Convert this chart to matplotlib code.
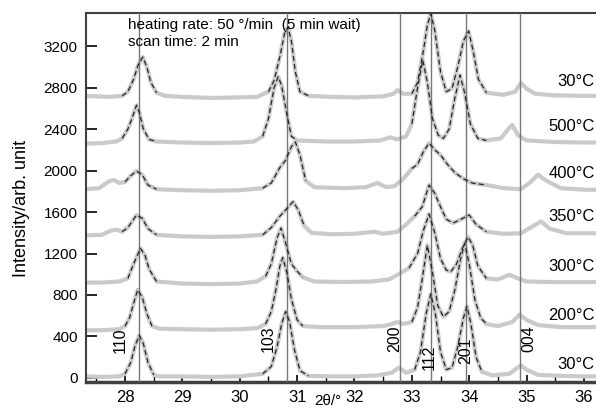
import numpy as np
import matplotlib
matplotlib.use("Agg")
import matplotlib.pyplot as plt
from matplotlib.ticker import MultipleLocator

plt.rcParams['font.family'] = ['Liberation Sans', 'DejaVu Sans']

# --- data (2theta in deg, intensity in arb. unit, stacked as drawn) ---
tt_30a = [27.32, 27.6, 27.9, 28.0, 28.1, 28.18, 28.25, 28.32, 28.4, 28.5, 28.6, 29.0, 29.5, 30.0,
          30.4, 30.55, 30.65, 30.73, 30.8, 30.87, 30.95, 31.05, 31.2, 31.6, 32.0, 32.4, 32.65,
          32.77, 32.9, 33.05, 33.15, 33.25, 33.33, 33.41, 33.5, 33.6, 33.7, 33.8, 33.9, 33.96,
          34.03, 34.12, 34.22, 34.4, 34.7, 34.82, 34.9, 35.0, 35.2, 35.6, 36.0, 36.3]
ii_30a = [15, 10, 15, 40, 150, 320, 410, 330, 150, 30, 15, 15, 10, 15,
          40, 110, 300, 520, 640, 540, 280, 70, 20, 15, 15, 25, 50,
          100, 50, 80, 250, 620, 810, 620, 250, 80, 100, 300, 580, 690,
          520, 200, 60, 25, 40, 90, 120, 80, 30, 20, 15, 15]

tt_200 = [27.32, 27.6, 27.9, 28.0, 28.08, 28.15, 28.22, 28.3, 28.38, 28.47, 28.6, 29.0, 29.5, 30.0,
          30.3, 30.45, 30.55, 30.63, 30.7, 30.75, 30.82, 30.9, 31.0, 31.1, 31.4, 32.0, 32.5, 32.65,
          32.75, 32.85, 33.0, 33.1, 33.18, 33.27, 33.35, 33.45, 33.55, 33.65, 33.75, 33.85, 33.92,
          34.0, 34.1, 34.2, 34.3, 34.5, 34.75, 34.88, 35.0, 35.2, 35.6, 36.0, 36.3]
ii_200 = [460, 460, 470, 500, 580, 720, 850, 780, 620, 500, 475, 470, 465, 470,
          480, 520, 640, 850, 1080, 1160, 1020, 760, 560, 500, 490, 490, 500, 520,
          540, 520, 540, 680, 950, 1280, 1050, 700, 590, 640, 850, 1150, 1300,
          1100, 750, 580, 520, 500, 540, 610, 560, 510, 490, 490, 490]

tt_300 = [27.32, 27.6, 27.9, 28.05, 28.15, 28.27, 28.35, 28.42, 28.55, 29.0, 29.5, 30.0, 30.3,
          30.45, 30.55, 30.65, 30.72, 30.8, 30.9, 31.0, 31.1, 31.3, 31.8, 32.3, 32.6, 32.8, 32.95,
          33.1, 33.2, 33.3, 33.4, 33.5, 33.6, 33.68, 33.78, 33.88, 33.98, 34.06, 34.15, 34.3,
          34.5, 34.7, 34.85, 35.0, 35.4, 36.0, 36.3]
ii_300 = [920, 920, 930, 960, 1100, 1250, 1180, 1050, 930, 910, 905, 910, 930,
          980, 1100, 1350, 1446, 1300, 1100, 1030, 970, 930, 925, 930, 950, 1010, 1060,
          1200, 1420, 1580, 1400, 1150, 1040, 1025, 1100, 1250, 1360, 1280, 1080, 960,
          950, 995, 960, 930, 925, 925, 925]

tt_350 = [27.32, 27.6, 27.75, 27.85, 27.95, 28.05, 28.2, 28.3, 28.4, 28.55, 29.0, 29.5, 30.0,
          30.4, 30.55, 30.7, 30.8, 30.93, 31.02, 31.12, 31.25, 31.6, 32.0, 32.35, 32.5, 32.75,
          32.9, 33.05, 33.18, 33.3, 33.4, 33.5, 33.6, 33.72, 33.82, 34.0, 34.12, 34.3, 34.6,
          34.9, 35.1, 35.25, 35.4, 35.7, 36.0, 36.3]
ii_350 = [1375, 1380, 1420, 1430, 1410, 1450, 1570, 1540, 1440, 1380, 1365, 1360, 1365,
          1380, 1450, 1560, 1620, 1700, 1620, 1470, 1400, 1385, 1390, 1410, 1390, 1410,
          1480, 1560, 1650, 1860, 1780, 1650, 1530, 1494, 1520, 1571, 1480, 1410, 1390,
          1395, 1460, 1510, 1440, 1395, 1395, 1395]

tt_400 = [27.32, 27.55, 27.7, 27.8, 27.9, 28.0, 28.1, 28.2, 28.3, 28.4, 28.55, 29.0, 29.5, 30.0,
          30.4, 30.55, 30.7, 30.8, 30.9, 30.97, 31.05, 31.15, 31.3, 31.8, 32.2, 32.4, 32.55,
          32.7, 32.85, 33.0, 33.1, 33.2, 33.3, 33.4, 33.5, 33.62, 33.75, 33.9, 34.05, 34.3,
          34.6, 34.9, 35.05, 35.2, 35.35, 35.6, 36.0, 36.3]
ii_400 = [1820, 1830, 1890, 1910, 1880, 1890, 1950, 1995, 1960, 1860, 1820, 1810, 1805, 1810,
          1830, 1880, 2030, 2100, 2230, 2275, 2150, 1900, 1840, 1830, 1840, 1880, 1840,
          1850, 1920, 2020, 2060, 2180, 2265, 2200, 2150, 2060, 1980, 1920, 1880, 1860,
          1830, 1820, 1880, 1960, 1900, 1830, 1815, 1815]

tt_500 = [27.32, 27.6, 27.85, 27.95, 28.05, 28.12, 28.2, 28.25, 28.32, 28.42, 28.55, 29.0, 29.5,
          30.0, 30.25, 30.4, 30.5, 30.6, 30.67, 30.73, 30.82, 30.9, 31.0, 31.5, 32.0, 32.45,
          32.62, 32.75, 32.9, 33.0, 33.1, 33.19, 33.27, 33.36, 33.46, 33.55, 33.65, 33.75,
          33.84, 33.92, 34.02, 34.15, 34.3, 34.55, 34.68, 34.75, 34.85, 35.0, 35.5, 36.0, 36.3]
ii_500 = [2260, 2265, 2280, 2310, 2400, 2500, 2630, 2560, 2400, 2300, 2280, 2270, 2265,
          2270, 2280, 2330, 2500, 2800, 2905, 2820, 2550, 2330, 2290, 2280, 2280, 2290,
          2320, 2300, 2330, 2450, 2800, 3065, 2850, 2500, 2340, 2310, 2400, 2700,
          2920, 2750, 2450, 2310, 2290, 2310, 2400, 2440, 2340, 2290, 2275, 2270, 2270]

tt_30b = [27.32, 27.7, 27.95, 28.05, 28.15, 28.23, 28.31, 28.38, 28.45, 28.55, 28.7, 29.0, 29.5,
          30.0, 30.3, 30.5, 30.6, 30.7, 30.78, 30.84, 30.9, 30.97, 31.05, 31.2, 31.6, 32.0, 32.5,
          32.68, 32.75, 32.85, 33.0, 33.1, 33.2, 33.27, 33.33, 33.4, 33.5, 33.6, 33.7, 33.8,
          33.9, 33.99, 34.07, 34.16, 34.3, 34.6, 34.8, 34.9, 35.0, 35.15, 35.5, 36.0, 36.3]
ii_30b = [2720, 2710, 2720, 2760, 2880, 3020, 3094, 3000, 2850, 2750, 2720, 2710, 2700,
          2705, 2710, 2760, 2870, 3100, 3320, 3384, 3250, 2950, 2760, 2720, 2710, 2705, 2715,
          2740, 2776, 2740, 2740, 2850, 3150, 3400, 3515, 3350, 2950, 2760, 2790, 3000,
          3250, 3345, 3150, 2880, 2750, 2730, 2760, 2844, 2790, 2740, 2725, 2720, 2720]

temp_labels = ['30°C', '200°C', '300°C', '350°C', '400°C', '500°C', '30°C']
label_y = [125, 607, 1070, 1552, 1976, 2420, 2863]

ref_pos = [28.24, 30.82, 32.80, 33.34, 33.94, 34.89]
hkl = ['110', '103', '200', '112', '201', '004']
hkl_x = [27.91, 30.49, 32.70, 33.31, 33.94, 35.04]
hkl_y = [240, 250, 250, 80, 130, 250]

curves = [(tt_30a, ii_30a), (tt_200, ii_200), (tt_300, ii_300), (tt_350, ii_350),
          (tt_400, ii_400), (tt_500, ii_500), (tt_30b, ii_30b)]

# peak windows where the fitted profile (dashed) is drawn on top of the data
fit_windows = [(27.95, 28.55), (30.4, 31.2), (32.95, 34.3)]

fig = plt.figure(figsize=(5.96, 4.09), dpi=100)
ax = fig.add_axes([86 / 596, 1 - 382 / 409, 1 - 86 / 596, (382 - 13) / 409])

for tt, ii in curves:
    tt = np.asarray(tt, float)
    ii = np.asarray(ii, float)
    ax.plot(tt, ii, color='#cacaca', lw=3.0, solid_capstyle='round', zorder=2)
    fit = np.full_like(ii, np.nan)
    for lo, hi in fit_windows:
        m = (tt >= lo) & (tt <= hi)
        fit[m] = ii[m]
    ax.plot(tt, fit, color='#222222', lw=0.9, ls=(0, (4, 2.5)), zorder=4)

for x in ref_pos:
    ax.axvline(x, color='#777777', lw=1.0, zorder=3)

for x, y, s in zip(hkl_x, hkl_y, hkl):
    ax.text(x, y, s, rotation=90, ha='center', va='bottom', fontsize=11.5, zorder=5)

for y, s in zip(label_y, temp_labels):
    ax.text(36.19, y, s, ha='right', va='center', fontsize=12)

ax.text(28.05, 3475, 'heating rate: 50 °/min  (5 min wait)\nscan time: 2 min',
        ha='left', va='top', fontsize=11, linespacing=1.3)

ax.set_xlim(27.32, 36.21)
ax.set_ylim(-39, 3519)
ax.xaxis.set_major_locator(MultipleLocator(1))
ax.xaxis.set_minor_locator(MultipleLocator(0.5))
ax.set_yticks(np.arange(0, 3201, 400))

ax.tick_params(axis='x', which='major', direction='in', length=5, width=1.2, labelsize=12, pad=6,
               top=False)
ax.tick_params(axis='x', which='minor', direction='in', length=4, width=1.0, top=False)
ax.tick_params(axis='y', which='major', direction='in', length=8, width=1.2, labelsize=11, pad=6,
               right=False)

for side in ['left', 'top', 'bottom']:
    ax.spines[side].set_color('#404040')
ax.spines['left'].set_linewidth(1.5)
ax.spines['top'].set_linewidth(1.5)
ax.spines['bottom'].set_linewidth(2.5)
ax.spines['right'].set_visible(False)

ax.set_ylabel('Intensity/arb. unit', fontsize=13)
ax.yaxis.set_label_coords(-0.11, 0.47)

fig.text(328 / 596, 1 / 409, '2θ/°', ha='center', va='bottom', fontsize=11)

fig.savefig('out.png', dpi=100)
